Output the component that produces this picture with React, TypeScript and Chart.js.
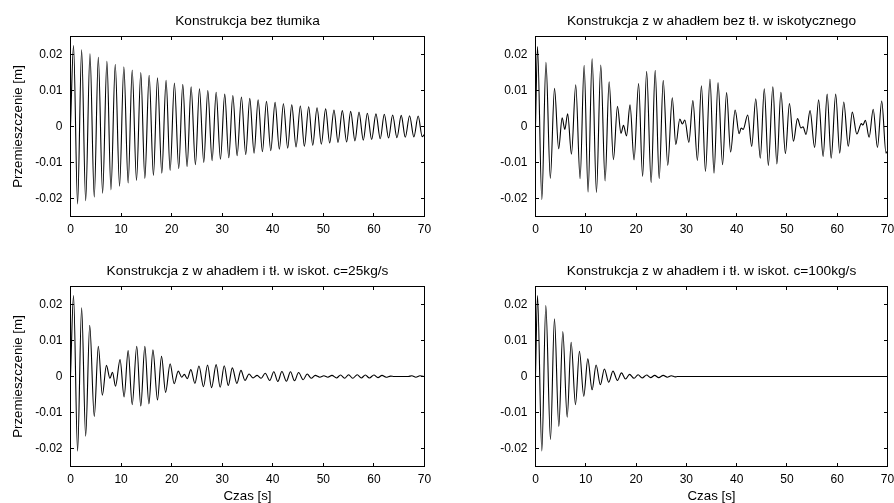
import React, { useEffect, useRef } from "react";
import { Chart, registerables } from "chart.js";

Chart.register(...registerables);

// ---- axes / labels ----
const xTickValues = [0, 10, 20, 30, 40, 50, 60, 70];
const xTickLabels = ["0", "10", "20", "30", "40", "50", "60", "70"];
const yTickValues = [-0.02, -0.01, 0, 0.01, 0.02];
const yTickLabels = ["-0.02", "-0.01", "0", "0.01", "0.02"];
const yAxisLabel = "Przemieszczenie [m]";
const xAxisLabel = "Czas [s]";
const panelTitles = [
  "Konstrukcja bez tłumika",
  "Konstrukcja z w ahadłem bez tł. w iskotycznego",
  "Konstrukcja z w ahadłem i tł. w iskot. c=25kg/s",
  "Konstrukcja z w ahadłem i tł. w iskot. c=100kg/s",
];

// ---- series 1: bez tłumika (extrema) ----
const times1 = [
  0, 0.6, 1.4, 2.2, 3.0, 3.85, 4.7, 5.5, 6.35, 7.2, 8.0, 8.85, 9.7, 10.55, 11.4,
  12.2, 13.05, 13.9, 14.7, 15.55, 16.4, 17.2, 18.05, 18.9, 19.7, 20.55, 21.4,
  22.2, 23.05, 23.85, 24.7, 25.5, 26.35, 27.15, 28.0, 28.8, 29.65, 30.5, 31.3,
  32.1, 32.95, 33.8, 34.65, 35.45, 36.3, 37.1, 37.95, 38.75, 39.6, 40.45, 41.3,
  42.1, 42.95, 43.75, 44.6, 45.45, 46.25, 47.1, 47.9, 48.75, 49.6, 50.45, 51.25,
  52.1, 52.9, 53.75, 54.6, 55.4, 56.25, 57.05, 57.9, 58.7, 59.55, 60.4, 61.25,
  62.05, 62.9, 63.7, 64.55, 65.4, 66.2, 67.05, 67.9, 68.75, 69.55, 70,
];
const values1 = [
  0, 0.0225, -0.0215, 0.0213, -0.0206, 0.0202, -0.0196, 0.0192, -0.0185, 0.0181,
  -0.0176, 0.0173, -0.0166, 0.0166, -0.0157, 0.0157, -0.015, 0.015, -0.0144,
  0.0142, -0.0136, 0.0135, -0.013, 0.0128, -0.0122, 0.0121, -0.0117, 0.0117,
  -0.0111, 0.011, -0.0106, 0.0105, -0.01, 0.01, -0.0095, 0.0095, -0.0091, 0.009,
  -0.0087, 0.0086, -0.0081, 0.0082, -0.0078, 0.0078, -0.0074, 0.0074, -0.007,
  0.007, -0.0067, 0.0067, -0.0063, 0.0063, -0.006, 0.006, -0.0057, 0.0057,
  -0.0055, 0.0055, -0.0052, 0.0052, -0.0049, 0.0049, -0.0046, 0.0046, -0.0044,
  0.0044, -0.0043, 0.0042, -0.004, 0.004, -0.0038, 0.0037, -0.0036, 0.0035,
  -0.0034, 0.0034, -0.0032, 0.0032, -0.0031, 0.0031, -0.003, 0.003, -0.0029,
  0.0029, -0.0028, -0.0022,
];

// ---- series 2: z wahadłem bez tłumika wiskotycznego ----
const times2 = [
  0, 0.4, 1.26, 2.08, 2.95, 3.78, 4.6, 5.3, 5.83, 6.4, 7.15, 8.0, 8.87, 9.67,
  10.46, 11.26, 12.12, 12.98, 13.84, 14.64, 15.5, 16.3, 17.0, 17.5, 18.1, 18.8,
  19.6, 20.5, 21.3, 22.1, 23.0, 23.8, 24.6, 25.4, 26.3, 27.2, 27.9, 28.7, 29.2,
  29.7, 30.5, 31.3, 32.2, 33.0, 33.8, 34.7, 35.5, 36.3, 37.2, 38.0, 38.8, 39.7,
  40.5, 40.9, 41.3, 42.2, 43.0, 43.8, 44.7, 45.5, 46.3, 47.2, 48.0, 48.8, 49.7,
  50.5, 51.3, 52.1, 52.8, 53.2, 53.8, 54.6, 55.5, 56.3, 57.2, 58.0, 58.8, 59.7,
  60.5, 61.3, 62.2, 63.0, 63.9, 64.8, 65.1, 65.6, 66.35, 67.15, 68.0, 68.85,
  69.7, 70,
];
const values2 = [
  0, 0.0222, -0.0203, 0.0178, -0.0144, 0.0106, -0.0062, 0.0024, -0.0008, 0.0035,
  -0.0077, 0.0116, -0.0145, 0.017, -0.0182, 0.0188, -0.0183, 0.0171, -0.0151,
  0.0124, -0.0092, 0.0056, -0.0019, 0.0003, -0.0026, 0.006, -0.0093, 0.0119,
  -0.0139, 0.0153, -0.0156, 0.0156, -0.0145, 0.0128, -0.0108, 0.008, -0.005,
  0.0021, 0.0007, 0.0018, -0.0044, 0.0072, -0.0094, 0.0113, -0.0125, 0.0132,
  -0.013, 0.0122, -0.0106, 0.0094, -0.0071, 0.0046, -0.002, -0.0004, -0.0008,
  0.0032, -0.0055, 0.0077, -0.0088, 0.0105, -0.0108, 0.011, -0.0104, 0.0095,
  -0.0075, 0.0064, -0.0041, 0.0022, -0.0004, -0.0001, -0.0022, 0.0044, -0.0058,
  0.0074, -0.0083, 0.009, -0.0088, 0.009, -0.0074, 0.0068, -0.0055, 0.004,
  -0.0021, 0.0008, 0.0004, 0.0017, -0.003, 0.0048, -0.0058, 0.0071, -0.0074,
  -0.0068,
];

// ---- series 3: z wahadłem i tł. wiskot. c=25kg/s ----
const times3 = [
  0, 0.6, 1.4, 2.2, 3.0, 3.8, 4.7, 5.5, 6.3, 7.1, 7.8, 8.3, 8.9, 9.8, 10.6, 11.4,
  12.2, 13.1, 13.9, 14.7, 15.5, 16.3, 17.2, 18.0, 18.8, 19.7, 20.5, 21.3, 22.0,
  22.5, 23.1, 23.8, 24.6, 25.4, 26.3, 27.1, 27.9, 28.8, 29.6, 30.4, 31.2, 32.0,
  32.9, 33.7, 34.5, 35.3, 36.1, 36.9, 37.7, 38.5, 39.4, 40.2, 41.0, 41.8, 42.7,
  43.5, 44.3, 45.1, 46.0, 46.8, 47.6, 48.4, 49.3, 50.1, 50.9, 51.7, 52.6, 53.4,
  54.2, 55.0, 55.8, 56.7, 57.5, 58.3, 59.1, 60.0, 60.8, 61.6, 62.4, 63.3, 64.0,
  66.8, 67.5, 68.3, 69.1, 70,
];
const values3 = [
  0, 0.0225, -0.0207, 0.0191, -0.0166, 0.0142, -0.0111, 0.0084, -0.0052, 0.0031,
  -0.0005, 0.0012, -0.0027, 0.0047, -0.0057, 0.0072, -0.0078, 0.0084, -0.0082,
  0.0084, -0.0076, 0.0074, -0.0065, 0.0056, -0.0044, 0.0035, -0.002, 0.0015,
  -0.0002, 0.0006, -0.0006, 0.0019, -0.0019, 0.0029, -0.0028, 0.0032, -0.0031,
  0.0033, -0.003, 0.003, -0.0025, 0.0024, -0.0019, 0.0017, -0.0011, 0.0007,
  -0.0004, 0.0003, -0.0005, 0.0009, -0.0011, 0.0013, -0.0014, 0.0014, -0.0013,
  0.0013, -0.0012, 0.0011, -0.0009, 0.0007, -0.0005, 0.0003, -0.0002, 0.0002,
  -0.0002, 0.0003, -0.0004, 0.0004, -0.0005, 0.0005, -0.0005, 0.0005, -0.0004,
  0.0004, -0.0004, 0.0004, -0.0003, 0.0003, -0.0002, 0.0001, 0, 0, 0.0002,
  -0.0002, 0.0002, 0,
];

// ---- series 4: z wahadłem i tł. wiskot. c=100kg/s ----
const times4 = [
  0, 0.4, 1.26, 2.05, 2.98, 3.77, 4.64, 5.43, 6.3, 7.09, 7.95, 8.74, 9.6, 10.4,
  11.26, 12.05, 12.9, 13.7, 14.57, 15.4, 16.3, 17.1, 17.9, 18.7, 19.6, 20.4, 21.2,
  22.1, 22.9, 23.7, 24.5, 25.4, 26.2, 27.0, 27.8, 28.2, 70,
];
const values4 = [
  0, 0.0225, -0.0207, 0.0197, -0.0175, 0.016, -0.0139, 0.0125, -0.0113, 0.0095,
  -0.0078, 0.007, -0.0055, 0.0049, -0.0037, 0.0032, -0.0023, 0.0021, -0.0016,
  0.0015, -0.0011, 0.001, -0.0007, 0.0006, -0.0005, 0.0005, -0.0004, 0.0004,
  -0.0003, 0.0003, -0.0003, 0.0003, -0.0002, 0.0002, -0.0001, 0, 0,
];

const FONT = '"Liberation Sans", Arial, Helvetica, sans-serif';

type PanelProps = {
  times: number[];
  values: number[];
  title: string;
  yLabel?: string;
  xLabel?: string;
  left: number;
  top: number;
  width: number;
  height: number;
  pad: { left: number; right: number; top: number; bottom: number };
};

function Panel(p: PanelProps) {
  const ref = useRef<HTMLCanvasElement | null>(null);
  useEffect(() => {
    if (!ref.current) return;
    const framePlugin = {
      id: "matlabFrame",
      afterDraw(chart: any) {
        const { ctx, chartArea: a, scales } = chart;
        const xs = scales.x;
        const ys = scales.y;
        const tl = 3.5;
        ctx.save();
        ctx.strokeStyle = "#000";
        ctx.lineWidth = 1;
        ctx.strokeRect(a.left, a.top, a.right - a.left, a.bottom - a.top);
        ctx.beginPath();
        xTickValues.forEach((v) => {
          const px = Math.floor(xs.getPixelForValue(v)) + 0.5;
          ctx.moveTo(px, a.bottom);
          ctx.lineTo(px, a.bottom - tl);
          ctx.moveTo(px, a.top);
          ctx.lineTo(px, a.top + tl);
        });
        yTickValues.forEach((v) => {
          const py = Math.floor(ys.getPixelForValue(v)) + 0.5;
          ctx.moveTo(a.left, py);
          ctx.lineTo(a.left + tl, py);
          ctx.moveTo(a.right, py);
          ctx.lineTo(a.right - tl, py);
        });
        ctx.stroke();

        ctx.fillStyle = "#000";
        ctx.font = `12px ${FONT}`;
        ctx.textAlign = "center";
        ctx.textBaseline = "middle";
        xTickValues.forEach((v, i) => {
          ctx.fillText(xTickLabels[i], xs.getPixelForValue(v), a.bottom + 13.5);
        });
        ctx.textAlign = "right";
        yTickValues.forEach((v, i) => {
          ctx.fillText(yTickLabels[i], a.left - 8, ys.getPixelForValue(v));
        });

        ctx.font = `13.7px ${FONT}`;
        ctx.textAlign = "center";
        const cx = (a.left + a.right) / 2;
        ctx.fillText(p.title, cx, a.top - 15.5);
        ctx.font = `13.3px ${FONT}`;
        if (p.xLabel) ctx.fillText(p.xLabel, cx, a.bottom + 30);
        if (p.yLabel) {
          ctx.translate(a.left - 52.5, (a.top + a.bottom) / 2);
          ctx.rotate(-Math.PI / 2);
          ctx.fillText(p.yLabel, 0, 0);
        }
        ctx.restore();
      },
    };

    const chart = new Chart(ref.current, {
      type: "line",
      data: {
        datasets: [
          {
            data: p.times.map((t, i) => ({ x: t, y: p.values[i] })),
            borderColor: "#000",
            borderWidth: 1.1,
            pointRadius: 0,
            fill: false,
            tension: 0.4,
            cubicInterpolationMode: "monotone",
          },
        ],
      },
      options: {
        animation: false,
        responsive: false,
        devicePixelRatio: 1,
        layout: { padding: p.pad },
        scales: {
          x: { type: "linear", min: 0, max: 70, display: false },
          y: { type: "linear", min: -0.025, max: 0.025, display: false },
        },
        plugins: {
          legend: { display: false },
          tooltip: { enabled: false },
          title: { display: false },
        },
      },
      plugins: [framePlugin],
    } as any);
    return () => chart.destroy();
  }, []);
  return (
    <canvas
      ref={ref}
      width={p.width}
      height={p.height}
      style={{
        position: "absolute",
        left: p.left,
        top: p.top,
        width: p.width,
        height: p.height,
      }}
    />
  );
}

export default function App() {
  return (
    <div
      style={{
        position: "absolute",
        left: 0,
        top: 0,
        width: 894,
        height: 503,
        background: "#fff",
        overflow: "hidden",
      }}
    >
      <Panel
        times={times1}
        values={values1}
        title={panelTitles[0]}
        yLabel={yAxisLabel}
        left={0}
        top={0}
        width={447}
        height={250}
        pad={{ left: 70.5, right: 22.5, top: 36.5, bottom: 33.5 }}
      />
      <Panel
        times={times2}
        values={values2}
        title={panelTitles[1]}
        left={447}
        top={0}
        width={447}
        height={250}
        pad={{ left: 88.5, right: 6.5, top: 36.5, bottom: 33.5 }}
      />
      <Panel
        times={times3}
        values={values3}
        title={panelTitles[2]}
        yLabel={yAxisLabel}
        xLabel={xAxisLabel}
        left={0}
        top={250}
        width={447}
        height={253}
        pad={{ left: 70.5, right: 22.5, top: 36.5, bottom: 36.5 }}
      />
      <Panel
        times={times4}
        values={values4}
        title={panelTitles[3]}
        xLabel={xAxisLabel}
        left={447}
        top={250}
        width={447}
        height={253}
        pad={{ left: 88.5, right: 6.5, top: 36.5, bottom: 36.5 }}
      />
    </div>
  );
}
